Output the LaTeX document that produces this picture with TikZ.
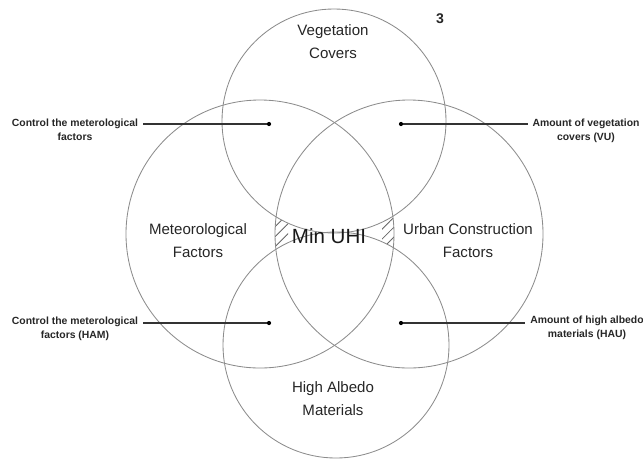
\documentclass[tikz,border=0pt]{standalone}
\usepackage{fontspec}
\setmainfont{Liberation Sans}
\usetikzlibrary{patterns.meta}
\tikzset{
  ring/.style={draw=black!45, line width=0.6pt},
  pin/.style={draw=black!80, line width=0.9pt},
  dot/.style={circle, fill=black, inner sep=0pt, minimum size=3pt},
  side/.style={font=\fontsize{7.4}{10}\selectfont\bfseries, align=center, text=black!85},
  field/.style={font=\fontsize{10.7}{16.4}\selectfont, align=center, text=black!85},
  hatch/.style={pattern={Lines[angle=45,distance=5pt,line width=0.6pt]}, pattern color=black!60},
}
\begin{document}
\begin{tikzpicture}[x=0.025cm, y=-0.025cm]
  \useasboundingbox (0,0) rectangle (643,462);
  \coordinate (cveg) at (334,121);
  \coordinate (cmet) at (260,234);
  \coordinate (curb) at (409,234);
  \coordinate (calb) at (336,345);
  % hatched gaps
  \begin{scope}
    \clip (cmet) circle (134);
    \clip (curb) circle (134);
    \fill[hatch] (250,200) rectangle (288,270);
    \fill[hatch] (382,200) rectangle (420,270);
    \fill[white] (cveg) circle (112);
    \fill[white] (calb) circle (113);
  \end{scope}
  \draw[ring] (cveg) circle (112);
  \draw[ring] (cmet) circle (134);
  \draw[ring] (curb) circle (134);
  \draw[ring] (calb) circle (113);
  \node[field] (veg) at (333,42) {Vegetation\\Covers};
  \node[field] (met) at (198,241) {Meteorological\\Factors};
  \node[field] (urb) at (468,241) {Urban Construction\\Factors};
  \node[field] (alb) at (333,399) {High Albedo\\Materials};
  \node[font=\fontsize{14.6}{16}\selectfont, text=black!90] (core) at (329,236) {Min UHI};
  \node[font=\fontsize{10}{12}\selectfont\bfseries, text=black!85] (pg) at (440,19) {3};
  \node[dot] (d1) at (269,124) {};
  \node[dot] (d2) at (401,124) {};
  \node[dot] (d3) at (269,323) {};
  \node[dot] (d4) at (401,323) {};
  \node[side] (t1) at (75,130) {Control the meterological\\factors};
  \node[side] (t2) at (586,131) {Amount of vegetation\\covers (VU)};
  \node[side] (t3) at (75,329) {Control the meterological\\factors (HAM)};
  \node[side] (t4) at (587,328) {Amount of high albedo\\materials (HAU)};
  \draw[pin] (d1) -- (d1 -| t1.east);
  \draw[pin] (d2) -- (d2 -| t2.west);
  \draw[pin] (d3) -- (d3 -| t3.east);
  \draw[pin] (d4) -- (d4 -| t4.west);
\end{tikzpicture}
\end{document}
